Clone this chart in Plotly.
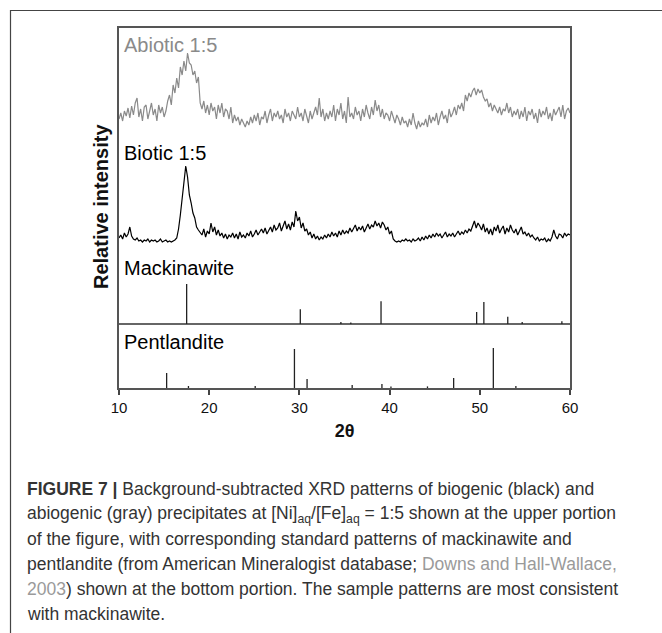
import plotly.graph_objects as go

# ---------------- data ----------------
two_theta = [round(10 + 0.2 * i, 1) for i in range(251)]

abiotic = [
    14, 20, 12, 22, 17,  25, 15, 27, 18, 30,  35, 16, 24, 12, 26,  28, 14, 22, 30, 18,
    24, 12, 28, 20, 26,  16, 22, 32, 38, 28,  48, 40, 55, 45, 66,  58, 72, 62, 80, 70,
    68, 58, 62, 50, 56,  30, 24, 32, 20, 28,  18, 30, 22, 26, 14,  28, 20, 30, 16, 24,
    22, 14, 26, 10, 18,  12, 16, 8, 14, 10,   6, 12, 8, 16, 10,    18, 12, 20, 8, 16,
    14, 22, 10, 18, 24,  12, 20, 16, 22, 14,  18, 10, 24, 16, 20,  12, 22, 18, 14, 26,
    16, 20, 12, 24, 18,  10, 22, 14, 20, 26,  18, 35, 16, 24, 12,  20, 14, 22, 16, 28,
    12, 24, 18, 30, 14,  22, 10, 36, 16, 20,  14, 26, 18, 22, 12,  24, 16, 28, 20, 14,
    26, 18, 33, 22, 28,  16, 24, 14, 20, 18,  12, 22, 16, 10, 18,  14, 8, 16, 10, 12,
    6, 14, 8, 20, 10,    4, 12, 6, 10, 8,     14, 6, 18, 10, 16,   12, 20, 8, 16, 22,
    14, 18, 10, 24, 16,  20, 26, 18, 28, 24,  30, 22, 38, 32, 40,  36, 42, 45, 38, 44,
    40, 43, 36, 32, 34,  26, 30, 22, 28, 24,  20, 26, 18, 24, 22,  30, 20, 26, 16, 22,
    18, 24, 14, 22, 16,  26, 12, 22, 18, 24,  14, 20, 10, 24, 16,  22, 18, 26, 14, 20,
    12, 24, 18, 22, 26,  16, 28, 14, 22, 25,  20,
]

biotic = [
    5, 8, 4, 10, 6,      9, 16, 7, 4, 3,      5, 2, 3, 1, 3,       2, 4, 1, 3, 2,
    3, 1, 2, 4, 1,       2, 3, 1, 2, 1,       2, 3, 5, 14, 28,     45, 62, 77, 66, 48,
    40, 30, 25, 16, 13,  10, 8, 14, 6, 12,    9, 20, 11, 16, 8,    13, 7, 10, 5, 9,
    4, 8, 6, 10, 5,      9, 4, 11, 6, 8,      5, 10, 7, 12, 6,     9, 13, 8, 11, 14,
    10, 15, 9, 12, 16,   11, 18, 13, 15, 20,  12, 17, 22, 14, 19,  13, 21, 16, 32, 22,
    26, 15, 20, 12, 14,  8, 11, 5, 9, 4,      7, 3, 6, 4, 8,       5, 9, 6, 11, 7,
    10, 6, 12, 8, 13,    9, 12, 10, 15, 11,   14, 18, 12, 16, 13,  17, 11, 15, 19, 14,
    18, 16, 22, 17, 20,  15, 21, 18, 13, 16,  9, 12, 4, 2, 1,      2, 1, 3, 2, 4,
    2, 3, 1, 4, 2,       3, 5, 2, 6, 3,       7, 4, 8, 5, 9,       6, 10, 7, 9, 5,
    8, 11, 6, 9, 7,      10, 6, 9, 12, 8,     11, 9, 13, 10, 14,   12, 18, 22, 15, 20,
    17, 13, 19, 11, 15,  9, 14, 8, 16, 12,    18, 10, 14, 17, 9,   15, 11, 18, 13, 10,
    14, 8, 12, 16, 9,    11, 7, 10, 6, 8,     5, 3, 6, 2, 4,       3, 5, 1, 4, 2,
    6, 13, 7, 4, 9,      8, 5, 10, 7, 9,      8,
]

mack_pos = [17.5, 30.1, 34.6, 35.7, 39.05, 49.65, 50.45, 53.1, 54.7, 59.1]
mack_int = [100, 37, 5, 4, 57, 30, 55, 18, 5, 7]

pent_pos = [15.28, 17.7, 25.1, 29.45, 30.85, 35.85, 39.15, 40.15, 44.2, 47.1, 51.5, 54.0]
pent_int = [37.5, 5, 5, 97.5, 22.5, 7.5, 10, 4, 4, 25, 100, 5]

x_ticks = [10, 20, 30, 40, 50, 60]

# vertical offsets of the stacked patterns
off_pent, off_mack, off_bio, off_abio = 0, 64, 145, 255
stick_scale = 0.4

# ---------------- figure ----------------
W, H = 662, 633
L, R, T, B = 119, 92, 28, 245
pw, ph = W - L - R, H - T - B


def px(xp):
    return (xp - L) / pw


def py(yp):
    return (H - B - yp) / ph


def sticks(pos, inten, base):
    xs, ys = [], []
    for p, i in zip(pos, inten):
        xs += [p, p, None]
        ys += [base, base + i * stick_scale, None]
    return xs, ys


fig = go.Figure()

fig.add_trace(go.Scatter(x=two_theta, y=[v + off_abio for v in abiotic], mode="lines",
                         line=dict(color="#8a8a8a", width=1.2), showlegend=False))
fig.add_trace(go.Scatter(x=two_theta, y=[v + off_bio for v in biotic], mode="lines",
                         line=dict(color="#000000", width=1.2), showlegend=False))

# baseline divider for the mackinawite panel
fig.add_trace(go.Scatter(x=[10, 60], y=[off_mack, off_mack], mode="lines",
                         line=dict(color="#333333", width=1.5), showlegend=False))

mx, my = sticks(mack_pos, mack_int, off_mack)
fig.add_trace(go.Scatter(x=mx, y=my, mode="lines", line=dict(color="#222222", width=1.3),
                         showlegend=False))
ptx, pty = sticks(pent_pos, pent_int, off_pent)
fig.add_trace(go.Scatter(x=ptx, y=pty, mode="lines", line=dict(color="#222222", width=1.3),
                         showlegend=False))

axis_font = "Liberation Sans, Arial, sans-serif"

fig.update_layout(
    width=W, height=H,
    margin=dict(l=L, r=R, t=T, b=B, pad=0),
    paper_bgcolor="white", plot_bgcolor="white",
    font=dict(family=axis_font, color="#111111"),
    xaxis=dict(range=[10, 60], tickvals=x_ticks, ticks="outside", ticklen=5, tickwidth=1.5,
               tickcolor="#444444", showline=True, linecolor="#555555", linewidth=1.5,
               mirror=True, showgrid=False, zeroline=False,
               tickfont=dict(size=15, color="#111111"),
               title=dict(text="<b>2θ</b>", font=dict(size=18, color="#111111"), standoff=10)),
    yaxis=dict(range=[0, 360], showticklabels=False, ticks="", showline=True,
               linecolor="#555555", linewidth=1.5, mirror=True, showgrid=False,
               zeroline=False),
)

labels = [
    ("Abiotic 1:5", 343, "#8a8a8a"),
    ("Biotic 1:5", 235, "#000000"),
    ("Mackinawite", 120, "#000000"),
    ("Pentlandite", 46, "#000000"),
]
for txt, yv, col in labels:
    fig.add_annotation(x=px(122), xref="paper", y=yv, yref="y", text=txt, showarrow=False,
                       xanchor="left", yanchor="middle",
                       font=dict(size=20, color=col, family=axis_font))

fig.add_annotation(x=px(101), xref="paper", y=py(207), yref="paper",
                   text="<b>Relative intensity</b>", textangle=-90, showarrow=False,
                   xanchor="center", yanchor="middle",
                   font=dict(size=20, color="#111111", family=axis_font))

# page frame (top and left rules)
fig.add_shape(type="line", xref="paper", yref="paper", x0=px(10), x1=px(662),
              y0=py(10.5), y1=py(10.5), line=dict(color="#444444", width=1.2))
fig.add_shape(type="line", xref="paper", yref="paper", x0=px(10.5), x1=px(10.5),
              y0=py(10), y1=py(633), line=dict(color="#444444", width=1.2))

grey = "#9a9a9a"
caption = [
    "<b>FIGURE 7 |</b> Background-subtracted XRD patterns of biogenic (black) and",
    "abiogenic (gray) precipitates at [Ni]<sub>aq</sub>/[Fe]<sub>aq</sub> = 1:5 shown at the upper portion",
    "of the figure, with corresponding standard patterns of mackinawite and",
    f"pentlandite (from American Mineralogist database; <span style='color:{grey}'>Downs and Hall-Wallace,</span>",
    f"<span style='color:{grey}'>2003</span>) shown at the bottom portion. The sample patterns are most consistent",
    "with mackinawite.",
]
for i, line in enumerate(caption):
    fig.add_annotation(x=px(25), xref="paper", y=py(489 + 25 * i), yref="paper", text=line,
                       showarrow=False, xanchor="left", yanchor="middle",
                       font=dict(size=17.5, color="#333333", family=axis_font))

fig.write_html("out.html")
